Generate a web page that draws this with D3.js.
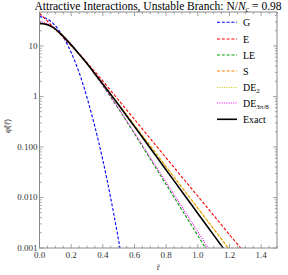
<!DOCTYPE html>
<html>
<head>
<meta charset="utf-8">
<script src="https://cdn.jsdelivr.net/npm/d3@7"></script>
<style>
  body { margin: 0; background: #fff; }
</style>
</head>
<body>
<svg id="chart" width="288" height="275" font-family="'Liberation Serif', 'DejaVu Serif', serif"></svg>
<script>
// values (phi vs r, log y)
var rG = [0, 0.05, 0.1, 0.15, 0.2, 0.25, 0.3, 0.35, 0.4, 0.45, 0.5, 0.55];
var phiG = [38, 34, 25, 15, 7.4, 3.0, 0.95, 0.25, 0.055, 0.0096, 0.0014, 0.00016];

var rE = [0, 0.05, 0.1, 0.15, 0.2, 0.25, 0.3, 0.35, 0.4, 0.5, 0.6, 0.7, 0.8, 0.9, 1.0, 1.1, 1.2, 1.3];
var phiE = [44.7, 30.9, 21.4, 14.8, 10, 7.0, 4.68, 3.09, 2.02, 0.841, 0.351, 0.146, 0.061, 0.0254, 0.0106, 0.00442, 0.00184, 0.00077];

var rLE = [0, 0.025, 0.05, 0.075, 0.1, 0.15, 0.2, 0.25, 0.3, 0.35, 0.4, 0.5, 0.6, 0.7, 0.8, 0.9, 1.0, 1.1];
var phiLE = [28, 27.5, 26.3, 24.3, 21.6, 15.5, 10.5, 6.9, 4.45, 2.72, 1.64, 0.562, 0.182, 0.0575, 0.018, 0.00562, 0.00176, 0.00055];

var rS = [0, 0.025, 0.05, 0.075, 0.1, 0.15, 0.2, 0.25, 0.3, 0.35, 0.4, 0.5, 0.6, 0.7, 0.8, 0.9, 1.0, 1.1, 1.2, 1.3];
var phiS = [28, 27.5, 26.3, 24.3, 21.6, 15.5, 10.5, 6.9, 4.47, 2.82, 1.76, 0.692, 0.269, 0.105, 0.0407, 0.0158, 0.00617, 0.0024, 0.00093, 0.00036];

var rDE2 = [0, 0.025, 0.05, 0.075, 0.1, 0.15, 0.2, 0.25, 0.3, 0.35, 0.4, 0.5, 0.6, 0.7, 0.8, 0.9, 1.0, 1.1, 1.2, 1.3];
var phiDE2 = [28, 27.5, 26.3, 24.3, 21.6, 15.5, 10.5, 6.9, 4.47, 2.82, 1.76, 0.69, 0.268, 0.104, 0.0403, 0.0156, 0.0061, 0.00236, 0.00091, 0.00035];

var rDE38 = [0, 0.025, 0.05, 0.075, 0.1, 0.15, 0.2, 0.25, 0.3, 0.35, 0.4, 0.5, 0.6, 0.7, 0.8, 0.9, 1.0, 1.1];
var phiDE38 = [30, 29.3, 27.5, 25, 22, 15.5, 10.5, 6.9, 4.45, 2.75, 1.66, 0.575, 0.19, 0.0617, 0.02, 0.00646, 0.00209, 0.00068];

var rEx = [0, 0.025, 0.05, 0.075, 0.1, 0.15, 0.2, 0.25, 0.3, 0.35, 0.4, 0.5, 0.6, 0.7, 0.8, 0.9, 1.0, 1.1, 1.2];
var phiEx = [28, 27.5, 26.3, 24.3, 21.6, 15.5, 10.5, 6.9, 4.47, 2.82, 1.76, 0.676, 0.254, 0.0944, 0.0351, 0.013, 0.00484, 0.0018, 0.00067];

var xTicks = [0, 0.2, 0.4, 0.6, 0.8, 1.0, 1.2, 1.4];
var yTicks = [0.001, 0.01, 0.1, 1, 10];
var yTickLabels = ["0.001", "0.010", "0.100", "1", "10"];

var series = [
    {name: "G", r: rG, v: phiG, color: "#0000ff", dash: "3,1.8", w: 1.1},
    {name: "E", r: rE, v: phiE, color: "#ff0000", dash: "3,1.8", w: 1.1},
    {name: "LE", r: rLE, v: phiLE, color: "#00a000", dash: "3,1.8", w: 1.1},
    {name: "S", r: rS, v: phiS, color: "#ff8000", dash: "3,1.8", w: 1.1},
    {name: "DE2", r: rDE2, v: phiDE2, color: "#c8c800", dash: "1,1.3", w: 1.1},
    {name: "DE38", r: rDE38, v: phiDE38, color: "#ff00ff", dash: "1,1.3", w: 1.1},
    {name: "Exact", r: rEx, v: phiEx, color: "#000000", dash: null, w: 1.6}
];

var svg = d3.select("#chart");
var pLeft = 39.5, pRight = 277, pTop = 12, pBottom = 248;

var x = d3.scaleLinear().domain([0, 1.5]).range([pLeft, pRight]);
var y = d3.scaleLog().domain([0.001, 47]).range([pBottom, pTop]);

svg.append("defs").append("clipPath").attr("id", "clip")
    .append("rect").attr("x", pLeft).attr("y", pTop)
    .attr("width", pRight - pLeft).attr("height", pBottom - pTop);

// curves
var line = d3.line()
    .x(function(d){ return x(d[0]); })
    .y(function(d){ return y(d[1]); })
    .curve(d3.curveMonotoneX);

var plot = svg.append("g").attr("clip-path", "url(#clip)");
series.forEach(function(s){
    var pts = s.r.map(function(r, i){ return [r, s.v[i]]; });
    plot.append("path")
        .attr("d", line(pts))
        .attr("fill", "none")
        .attr("stroke", s.color)
        .attr("stroke-width", s.w)
        .attr("stroke-dasharray", s.dash);
});

// frame + ticks (mathematica style, inside, all sides)
var frameColor = "#8a8a8a";
svg.append("rect")
    .attr("x", pLeft).attr("y", pTop)
    .attr("width", pRight - pLeft).attr("height", pBottom - pTop)
    .attr("fill", "none").attr("stroke", frameColor).attr("stroke-width", 1);

var ticks = svg.append("g").attr("stroke", frameColor).attr("stroke-width", 0.8);
var xMinor = d3.range(0, 1.5001, 0.05);
xMinor.forEach(function(t){
    var major = xTicks.some(function(m){ return Math.abs(m - t) < 1e-6; });
    var len = major ? 4 : 2.2;
    ticks.append("line").attr("x1", x(t)).attr("x2", x(t)).attr("y1", pBottom).attr("y2", pBottom - len);
    ticks.append("line").attr("x1", x(t)).attr("x2", x(t)).attr("y1", pTop).attr("y2", pTop + len);
});
var yMinor = [];
[0.001, 0.01, 0.1, 1, 10].forEach(function(d){
    for (var k = 1; k < 10; k++) {
        if (d * k <= 47) yMinor.push([d * k, k === 1]);
    }
});
yMinor.forEach(function(t){
    var len = t[1] ? 4 : 2.2;
    ticks.append("line").attr("y1", y(t[0])).attr("y2", y(t[0])).attr("x1", pLeft).attr("x2", pLeft + len);
    ticks.append("line").attr("y1", y(t[0])).attr("y2", y(t[0])).attr("x1", pRight).attr("x2", pRight - len);
});

// tick labels
svg.selectAll("text.xt").data(xTicks).join("text")
    .attr("class", "xt")
    .attr("x", function(d){ return x(d); })
    .attr("y", pBottom + 10)
    .attr("text-anchor", "middle")
    .attr("font-size", "9px")
    .attr("fill", "#333")
    .text(function(d){ return d.toFixed(1); });

svg.selectAll("text.yt").data(yTicks).join("text")
    .attr("class", "yt")
    .attr("x", pLeft - 2)
    .attr("y", function(d){ return y(d) + 3; })
    .attr("text-anchor", "end")
    .attr("font-size", "9px")
    .attr("fill", "#333")
    .text(function(d, i){ return yTickLabels[i]; });

// axis labels
svg.append("text")
    .attr("x", x(0.75)).attr("y", 270)
    .attr("text-anchor", "middle")
    .attr("font-size", "9px").attr("fill", "#333")
    .text("r\u0303");

svg.append("text")
    .attr("transform", "translate(10," + 126 + ") rotate(-90)")
    .attr("text-anchor", "middle")
    .attr("font-size", "9px").attr("fill", "#333")
    .text("\u03c6\u0303(r\u0303)");

// title
var title = svg.append("text")
    .attr("x", 158).attr("y", 10)
    .attr("text-anchor", "middle")
    .attr("font-size", "11.5px").attr("fill", "#000");
title.append("tspan").text("Attractive Interactions, Unstable Branch: N/");
title.append("tspan").attr("font-style", "italic").text("N");
title.append("tspan").attr("font-size", "8px").attr("dy", 2).attr("font-style", "italic").text("c");
title.append("tspan").attr("dy", -2).text(" = 0.98");

// legend
var legendY = [22.3, 39, 55, 71, 87.5, 103, 119.3];
var leg = svg.append("g");
series.forEach(function(s, i){
    leg.append("line")
        .attr("x1", 217).attr("x2", 237)
        .attr("y1", legendY[i]).attr("y2", legendY[i])
        .attr("stroke", s.color)
        .attr("stroke-width", s.w)
        .attr("stroke-dasharray", s.dash);
    var t = leg.append("text")
        .attr("x", 243).attr("y", legendY[i] + 3.5)
        .attr("font-size", "10px").attr("fill", "#000");
    if (s.name === "DE2") {
        t.append("tspan").text("DE");
        t.append("tspan").attr("font-size", "7px").attr("dy", 2).text("2");
    } else if (s.name === "DE38") {
        t.append("tspan").text("DE");
        t.append("tspan").attr("font-size", "7px").attr("dy", 2).text("3\u03c0/8");
    } else {
        t.text(s.name);
    }
});
</script>
</body>
</html>
